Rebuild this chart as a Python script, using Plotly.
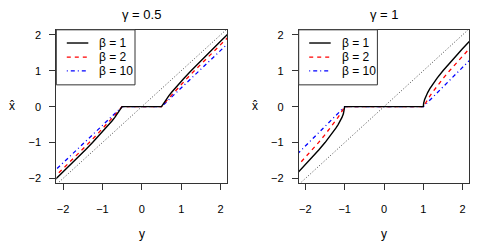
import plotly.graph_objects as go

# page is rendered with an 8px body margin; figure fills the rest of the 485x242 window
OFF = 8
W, H = 485 - OFF, 242 - OFF

# ---- data ----
gammas = ["0.5", "1"]
betas = ["1", "2", "10"]
tick_vals = [-2, -1, 0, 1, 2]
tick_text = ["\u22122", "\u22121", "0", "1", "2"]
diag_y = [-3.0, 3.0]
diag_x = [-3.0, 3.0]

# gamma = 0.5
g05_b1_y = [-2.2613, -2.1667, -1.9786, -1.7, -1.4273, -1.25, -1.0778, -0.9125, -0.7571, -0.6846, -0.6167, -0.5545, -0.5,
            0.5, 0.5545, 0.6167, 0.6846, 0.7571, 0.9125, 1.0778, 1.25, 1.4273, 1.7, 1.9786, 2.1667, 2.2613]
g05_b1_x = [-2.1, -2.0, -1.8, -1.5, -1.2, -1.0, -0.8, -0.6, -0.4, -0.3, -0.2, -0.1, 0.0,
            0.0, 0.1, 0.2, 0.3, 0.4, 0.6, 0.8, 1.0, 1.2, 1.5, 1.8, 2.0, 2.1]
g05_b2_y = [-2.25, -2.1564, -1.8778, -1.603, -1.3333, -1.1571, -0.9846, -0.8167, -0.6545, -0.5,
            0.5, 0.6545, 0.8167, 0.9846, 1.1571, 1.3333, 1.603, 1.8778, 2.1564, 2.25]
g05_b2_x = [-2.0, -1.9, -1.6, -1.3, -1.0, -0.8, -0.6, -0.4, -0.2, 0.0,
            0.0, 0.2, 0.4, 0.6, 0.8, 1.0, 1.3, 1.6, 1.9, 2.0]
g05_b10_y = [-2.2237, -1.9348, -1.6464, -1.3587, -1.0717, -0.7854, -0.5,
             0.5, 0.7854, 1.0717, 1.3587, 1.6464, 1.9348, 2.2237]
g05_b10_x = [-1.8, -1.5, -1.2, -0.9, -0.6, -0.3, 0.0,
             0.0, 0.3, 0.6, 0.9, 1.2, 1.5, 1.8]

# gamma = 1
g1_b1_y = [-2.2448, -2.1571, -1.9846, -1.8167, -1.6545, -1.5, -1.3556, -1.225, -1.1667, -1.1143, -1.0692, -1.0333, -1.0091, -1.0024, -1.0,
           1.0, 1.0024, 1.0091, 1.0333, 1.0692, 1.1143, 1.1667, 1.225, 1.3556, 1.5, 1.6545, 1.8167, 1.9846, 2.1571, 2.2448]
g1_b1_x = [-1.9, -1.8, -1.6, -1.4, -1.2, -1.0, -0.8, -0.6, -0.5, -0.4, -0.3, -0.2, -0.1, -0.05, 0.0,
           0.0, 0.05, 0.1, 0.2, 0.3, 0.4, 0.5, 0.6, 0.8, 1.0, 1.2, 1.4, 1.6, 1.8, 1.9]
g1_b2_y = [-2.2405, -2.1556, -1.9882, -1.825, -1.6667, -1.5143, -1.3692, -1.2333, -1.1696, -1.1091, -1.0524, -1.0,
           1.0, 1.0524, 1.1091, 1.1696, 1.2333, 1.3692, 1.5143, 1.6667, 1.825, 1.9882, 2.1556, 2.2405]
g1_b2_x = [-1.7, -1.6, -1.4, -1.2, -1.0, -0.8, -0.6, -0.4, -0.3, -0.2, -0.1, 0.0,
           0.0, 0.1, 0.2, 0.3, 0.4, 0.6, 0.8, 1.0, 1.2, 1.4, 1.6, 1.7]
g1_b10_y = [-2.2772, -2.185, -2.0929, -1.9091, -1.7259, -1.5434, -1.3615, -1.1804, -1.0,
            1.0, 1.1804, 1.3615, 1.5434, 1.7259, 1.9091, 2.0929, 2.185, 2.2772]
g1_b10_x = [-1.4, -1.3, -1.2, -1.0, -0.8, -0.6, -0.4, -0.2, 0.0,
            0.0, 0.2, 0.4, 0.6, 0.8, 1.0, 1.2, 1.3, 1.4]

panels = [
    [(g05_b1_y, g05_b1_x), (g05_b2_y, g05_b2_x), (g05_b10_y, g05_b10_x)],
    [(g1_b1_y, g1_b1_x), (g1_b2_y, g1_b2_x), (g1_b10_y, g1_b10_x)],
]

# ---- styles ----
FONT = "Liberation Sans, Arial, sans-serif"
colors = ["#000000", "#FF0000", "#0000FF"]
dashes = ["solid", "4px,4px", "1px,3px,4px,3px"]
widths = [1.4, 1.3, 1.3]
AXC = "#333333"

# pixel geometry (page pixels of the reference)
px_left = [56.3, 298.7]
px_right = [227.3, 469.3]
py_top, py_bot = 29.0, 184.0
xr = [-2.17, 2.17]
yr = [-2.14, 2.14]

def px(x):
    return (x - OFF) / W

def py(y):
    return 1 - (y - OFF) / H

fig = go.Figure()
shapes = []
annotations = []

for p in range(2):
    xa = "x" if p == 0 else "x2"
    ya = "y" if p == 0 else "y2"
    fig.add_trace(go.Scatter(x=diag_x, y=diag_y, mode="lines", xaxis=xa, yaxis=ya,
                             line=dict(color="#444444", width=1, dash="1px,2px"),
                             showlegend=False, hoverinfo="skip"))
    for k in [2, 1, 0]:
        yy, xx = panels[p][k]
        fig.add_trace(go.Scatter(x=yy, y=xx, mode="lines", xaxis=xa, yaxis=ya,
                                 line=dict(color=colors[k], width=widths[k], dash=dashes[k]),
                                 showlegend=False, hoverinfo="skip"))

    L = px_left[p]
    cx = (px_left[p] + px_right[p]) / 2
    annotations.append(dict(text="\u03b3 = " + gammas[p], x=px(cx), y=py(14), xref="paper", yref="paper",
                            showarrow=False, xanchor="center", yanchor="middle",
                            font=dict(family=FONT, size=13, color="black")))
    annotations.append(dict(text="y", x=px(cx), y=py(234.5), xref="paper", yref="paper",
                            showarrow=False, xanchor="center", yanchor="middle",
                            font=dict(family=FONT, size=12, color="black")))
    annotations.append(dict(text="x\u0302", x=px(L - 44), y=py(106), xref="paper", yref="paper",
                            showarrow=False, xanchor="center", yanchor="middle",
                            font=dict(family=FONT, size=12, color="black")))
    shapes.append(dict(type="rect", xref="paper", yref="paper",
                       x0=px(L), x1=px(L + 78.7), y0=py(84.5), y1=py(py_top),
                       line=dict(color=AXC, width=1), fillcolor="white", layer="above"))
    rows = [42.3, 56.5, 70.5]
    for k in range(3):
        shapes.append(dict(type="line", xref="paper", yref="paper",
                           x0=px(L + 10.5), x1=px(L + 32), y0=py(rows[k]), y1=py(rows[k]),
                           line=dict(color=colors[k], width=widths[k], dash=dashes[k]), layer="above"))
        annotations.append(dict(text="\u03b2 = " + betas[k], x=px(L + 41), y=py(rows[k]),
                                xref="paper", yref="paper", showarrow=False,
                                xanchor="left", yanchor="middle",
                                font=dict(family=FONT, size=12, color="black")))

axis_common = dict(showgrid=False, zeroline=False, showline=True, mirror=True,
                   linecolor=AXC, linewidth=1, ticks="outside", ticklen=6, tickcolor=AXC,
                   tickwidth=1, tickvals=tick_vals, ticktext=tick_text,
                   tickfont=dict(family=FONT, size=11, color="black"))

fig.update_layout(
    width=W, height=H, margin=dict(l=0, r=0, t=0, b=0),
    paper_bgcolor="white", plot_bgcolor="white", showlegend=False,
    xaxis=dict(domain=[px(px_left[0]), px(px_right[0])], range=xr, anchor="y",
               ticklabelstandoff=9, **axis_common),
    yaxis=dict(domain=[py(py_bot), py(py_top)], range=yr, anchor="x",
               ticklabelstandoff=6, **axis_common),
    xaxis2=dict(domain=[px(px_left[1]), px(px_right[1])], range=xr, anchor="y2",
                ticklabelstandoff=9, **axis_common),
    yaxis2=dict(domain=[py(py_bot), py(py_top)], range=yr, anchor="x2",
                ticklabelstandoff=6, **axis_common),
    shapes=shapes, annotations=annotations,
)

fig.write_html("out.html")
